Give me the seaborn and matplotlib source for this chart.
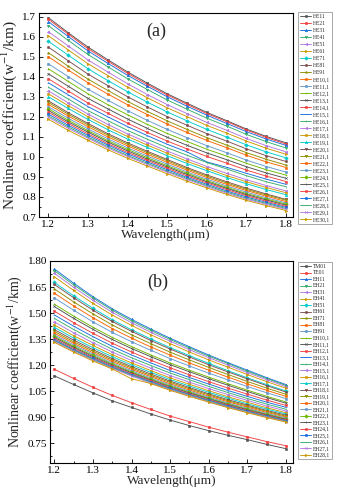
import matplotlib
matplotlib.use("Agg")
import matplotlib.pyplot as plt
from matplotlib.ticker import MultipleLocator, FormatStrFormatter
import seaborn as sns
import pandas as pd

# ---------------- data ----------------
wavelength = [1.20, 1.25, 1.30, 1.35, 1.40, 1.45, 1.50, 1.55, 1.60, 1.65, 1.70, 1.75, 1.80]

labels_a = ["HE11", "HE21", "HE31", "HE41", "HE51", "HE61", "HE71", "HE81", "HE91", "HE10,1",
            "HE11,1", "HE12,1", "HE13,1", "HE14,1", "HE15,1", "HE16,1", "HE17,1", "HE18,1", "HE19,1", "HE20,1",
            "HE21,1", "HE22,1", "HE23,1", "HE24,1", "HE25,1", "HE26,1", "HE27,1", "HE28,1", "HE29,1", "HE30,1"]

a01 = [1.695, 1.620, 1.548, 1.485, 1.424, 1.368, 1.315, 1.268, 1.222, 1.181, 1.139, 1.102, 1.070]
a02 = [1.687, 1.613, 1.540, 1.478, 1.417, 1.361, 1.309, 1.262, 1.216, 1.176, 1.134, 1.097, 1.064]
a03 = [1.675, 1.601, 1.529, 1.467, 1.407, 1.352, 1.300, 1.253, 1.208, 1.167, 1.126, 1.089, 1.057]
a04 = [1.655, 1.582, 1.511, 1.450, 1.390, 1.336, 1.284, 1.238, 1.193, 1.154, 1.112, 1.076, 1.044]
a05 = [1.625, 1.554, 1.484, 1.424, 1.365, 1.311, 1.261, 1.216, 1.172, 1.133, 1.092, 1.056, 1.025]
a06 = [1.605, 1.534, 1.465, 1.406, 1.348, 1.295, 1.245, 1.201, 1.157, 1.119, 1.079, 1.043, 1.013]
a07 = [1.577, 1.508, 1.440, 1.381, 1.325, 1.273, 1.224, 1.180, 1.137, 1.099, 1.060, 1.025, 0.995]
a08 = [1.548, 1.480, 1.413, 1.356, 1.300, 1.249, 1.201, 1.158, 1.116, 1.079, 1.040, 1.006, 0.977]
a09 = [1.520, 1.453, 1.388, 1.332, 1.277, 1.227, 1.180, 1.137, 1.096, 1.059, 1.021, 0.988, 0.959]
a10 = [1.500, 1.434, 1.370, 1.314, 1.260, 1.211, 1.164, 1.122, 1.082, 1.046, 1.008, 0.975, 0.947]
a11 = [1.465, 1.401, 1.338, 1.283, 1.231, 1.182, 1.137, 1.096, 1.056, 1.021, 0.984, 0.952, 0.924]
a12 = [1.440, 1.377, 1.315, 1.261, 1.210, 1.162, 1.117, 1.077, 1.038, 1.004, 0.968, 0.936, 0.909]
a13 = [1.415, 1.353, 1.292, 1.240, 1.189, 1.142, 1.098, 1.058, 1.020, 0.986, 0.951, 0.920, 0.893]
a14 = [1.390, 1.329, 1.269, 1.218, 1.168, 1.122, 1.079, 1.040, 1.002, 0.969, 0.934, 0.904, 0.877]
a15 = [1.370, 1.310, 1.251, 1.200, 1.151, 1.106, 1.063, 1.025, 0.975, 0.948, 0.918, 0.889, 0.863]
a16 = [1.348, 1.289, 1.231, 1.181, 1.132, 1.088, 1.046, 1.008, 0.972, 0.940, 0.906, 0.876, 0.851]
a17 = [1.330, 1.270, 1.214, 1.162, 1.115, 1.071, 1.029, 0.990, 0.952, 0.918, 0.886, 0.857, 0.830]
a18 = [1.315, 1.256, 1.201, 1.149, 1.102, 1.059, 1.018, 0.978, 0.942, 0.907, 0.876, 0.847, 0.821]
a19 = [1.300, 1.242, 1.187, 1.136, 1.089, 1.047, 1.006, 0.967, 0.931, 0.897, 0.866, 0.837, 0.811]
a20 = [1.280, 1.221, 1.167, 1.116, 1.070, 1.028, 0.987, 0.947, 0.910, 0.876, 0.844, 0.815, 0.788]
a21 = [1.272, 1.213, 1.160, 1.109, 1.063, 1.021, 0.981, 0.941, 0.904, 0.870, 0.838, 0.810, 0.784]
a22 = [1.262, 1.204, 1.151, 1.100, 1.055, 1.013, 0.973, 0.934, 0.897, 0.863, 0.832, 0.804, 0.777]
a23 = [1.250, 1.193, 1.140, 1.090, 1.045, 1.004, 0.964, 0.925, 0.889, 0.855, 0.824, 0.796, 0.770]
a24 = [1.240, 1.183, 1.131, 1.081, 1.037, 0.996, 0.956, 0.918, 0.882, 0.848, 0.817, 0.790, 0.764]
a25 = [1.232, 1.175, 1.124, 1.074, 1.030, 0.989, 0.950, 0.912, 0.876, 0.843, 0.812, 0.785, 0.759]
a26 = [1.223, 1.167, 1.115, 1.066, 1.022, 0.982, 0.943, 0.905, 0.870, 0.837, 0.806, 0.779, 0.753]
a27 = [1.214, 1.158, 1.107, 1.059, 1.015, 0.975, 0.936, 0.898, 0.863, 0.830, 0.800, 0.773, 0.748]
a28 = [1.205, 1.150, 1.099, 1.051, 1.007, 0.968, 0.929, 0.892, 0.857, 0.824, 0.794, 0.768, 0.742]
a29 = [1.198, 1.143, 1.093, 1.045, 1.002, 0.962, 0.924, 0.887, 0.852, 0.819, 0.789, 0.763, 0.738]
a30 = [1.188, 1.133, 1.083, 1.036, 0.993, 0.954, 0.916, 0.879, 0.845, 0.813, 0.783, 0.757, 0.732]

labels_b = ["TM01", "TE01", "EH11", "EH21", "EH31", "EH41", "EH51", "EH61", "EH71", "EH81",
            "EH91", "EH10,1", "EH11,1", "EH12,1", "EH13,1", "EH14,1", "EH15,1", "EH16,1", "EH17,1", "EH18,1",
            "EH19,1", "EH20,1", "EH21,1", "EH22,1", "EH23,1", "EH24,1", "EH25,1", "EH26,1", "EH27,1", "EH28,1"]

b01 = [1.139, 1.089, 1.041, 0.995, 0.957, 0.919, 0.884, 0.852, 0.823, 0.796, 0.771, 0.744, 0.719]
b02 = [1.177, 1.124, 1.073, 1.026, 0.984, 0.945, 0.907, 0.875, 0.843, 0.814, 0.787, 0.760, 0.736]
b03 = [1.755, 1.673, 1.595, 1.525, 1.464, 1.408, 1.355, 1.306, 1.258, 1.214, 1.171, 1.128, 1.088]
b04 = [1.745, 1.663, 1.587, 1.517, 1.456, 1.400, 1.348, 1.299, 1.252, 1.209, 1.165, 1.123, 1.083]
b05 = [1.730, 1.649, 1.574, 1.505, 1.445, 1.389, 1.338, 1.289, 1.243, 1.200, 1.157, 1.116, 1.076]
b06 = [1.710, 1.631, 1.556, 1.489, 1.429, 1.375, 1.324, 1.276, 1.230, 1.188, 1.146, 1.105, 1.067]
b07 = [1.677, 1.600, 1.528, 1.462, 1.404, 1.351, 1.301, 1.255, 1.210, 1.168, 1.127, 1.088, 1.051]
b08 = [1.665, 1.589, 1.517, 1.452, 1.395, 1.342, 1.293, 1.247, 1.202, 1.161, 1.121, 1.082, 1.045]
b09 = [1.640, 1.565, 1.496, 1.432, 1.375, 1.324, 1.275, 1.230, 1.187, 1.146, 1.106, 1.068, 1.032]
b10 = [1.615, 1.542, 1.474, 1.411, 1.356, 1.305, 1.258, 1.213, 1.171, 1.131, 1.092, 1.055, 1.020]
b11 = [1.588, 1.517, 1.450, 1.389, 1.335, 1.286, 1.238, 1.195, 1.154, 1.115, 1.077, 1.041, 1.007]
b12 = [1.552, 1.483, 1.419, 1.360, 1.307, 1.259, 1.213, 1.171, 1.131, 1.093, 1.056, 1.021, 0.988]
b13 = [1.538, 1.470, 1.407, 1.348, 1.296, 1.249, 1.203, 1.162, 1.122, 1.084, 1.048, 1.013, 0.981]
b14 = [1.512, 1.445, 1.384, 1.327, 1.276, 1.229, 1.185, 1.144, 1.105, 1.068, 1.033, 0.999, 0.968]
b15 = [1.490, 1.425, 1.365, 1.309, 1.259, 1.213, 1.169, 1.129, 1.091, 1.054, 1.020, 0.987, 0.957]
b16 = [1.470, 1.406, 1.347, 1.292, 1.243, 1.198, 1.155, 1.116, 1.078, 1.042, 1.008, 0.976, 0.946]
b17 = [1.450, 1.387, 1.330, 1.276, 1.227, 1.183, 1.140, 1.102, 1.065, 1.030, 0.997, 0.965, 0.936]
b18 = [1.432, 1.370, 1.314, 1.261, 1.213, 1.169, 1.127, 1.090, 1.053, 1.018, 0.986, 0.955, 0.926]
b19 = [1.418, 1.357, 1.301, 1.249, 1.202, 1.159, 1.117, 1.080, 1.044, 1.010, 0.977, 0.947, 0.919]
b20 = [1.405, 1.345, 1.290, 1.238, 1.192, 1.149, 1.108, 1.071, 1.035, 1.001, 0.970, 0.939, 0.912]
b21 = [1.395, 1.335, 1.281, 1.230, 1.184, 1.141, 1.101, 1.064, 1.029, 0.995, 0.964, 0.934, 0.906]
b22 = [1.385, 1.326, 1.272, 1.222, 1.176, 1.134, 1.093, 1.057, 1.022, 0.989, 0.958, 0.928, 0.901]
b23 = [1.375, 1.317, 1.264, 1.213, 1.168, 1.126, 1.086, 1.050, 1.016, 0.982, 0.952, 0.922, 0.896]
b24 = [1.367, 1.309, 1.256, 1.207, 1.161, 1.120, 1.080, 1.045, 1.010, 0.977, 0.947, 0.918, 0.891]
b25 = [1.360, 1.303, 1.250, 1.201, 1.156, 1.115, 1.075, 1.040, 1.006, 0.973, 0.943, 0.914, 0.888]
b26 = [1.353, 1.296, 1.244, 1.195, 1.150, 1.110, 1.070, 1.035, 1.001, 0.968, 0.939, 0.910, 0.884]
b27 = [1.347, 1.290, 1.239, 1.190, 1.146, 1.105, 1.066, 1.031, 0.997, 0.965, 0.935, 0.906, 0.881]
b28 = [1.342, 1.286, 1.234, 1.186, 1.142, 1.101, 1.062, 1.027, 0.994, 0.961, 0.932, 0.904, 0.878]
b29 = [1.337, 1.281, 1.230, 1.182, 1.138, 1.097, 1.059, 1.024, 0.990, 0.958, 0.929, 0.901, 0.875]
b30 = [1.332, 1.276, 1.225, 1.178, 1.122, 1.094, 1.055, 1.020, 0.987, 0.955, 0.926, 0.898, 0.872]

series_a = [a01, a02, a03, a04, a05, a06, a07, a08, a09, a10, a11, a12, a13, a14, a15,
            a16, a17, a18, a19, a20, a21, a22, a23, a24, a25, a26, a27, a28, a29, a30]
series_b = [b01, b02, b03, b04, b05, b06, b07, b08, b09, b10, b11, b12, b13, b14, b15,
            b16, b17, b18, b19, b20, b21, b22, b23, b24, b25, b26, b27, b28, b29, b30]

# ---------------- style ----------------
palette = ["#515151", "#F14040", "#1A6FDF", "#37AD6B", "#B177DE", "#CC9900",
           "#00CBCC", "#7D4E4E", "#8E8E00", "#FB6501", "#6699CC", "#6FB802"]
markers = ["s", "o", "^", "v", "<", ">", "D", "h", "*", "s", "o", "+",
           "x", "s", "_", "|", "<", "s", "^", "v", "v", "s", "o", "D",
           "+", "s", "o", "_", "x", ">"]

sns.set_style("ticks")
plt.rcParams["font.family"] = ["Liberation Serif", "DejaVu Serif"]
plt.rcParams["mathtext.fontset"] = "stix"

fig = plt.figure(figsize=(3.42, 4.94), dpi=100)
ax_a = fig.add_axes([0.114, 0.5607, 0.743, 0.413])
ax_b = fig.add_axes([0.146, 0.0628, 0.711, 0.4089])


def draw(ax, labels, series):
    for i, (lab, vals) in enumerate(zip(labels, series)):
        df = pd.DataFrame({"x": wavelength, "y": vals})
        c = palette[i % len(palette)]
        sns.lineplot(data=df, x="x", y="y", ax=ax, color=c, linewidth=0.65,
                     marker=markers[i], markersize=1.8, markeredgewidth=0.4,
                     markeredgecolor=c, markerfacecolor=c, label=lab)


draw(ax_a, labels_a, series_a)
draw(ax_b, labels_b, series_b)

for ax in (ax_a, ax_b):
    for sp in ax.spines.values():
        sp.set_linewidth(0.8)
        sp.set_color("black")
    ax.tick_params(which="both", direction="in", top=False, right=False,
                   labelsize=8, width=0.6, colors="black", pad=2)
    ax.tick_params(which="major", length=3)
    ax.tick_params(which="minor", length=1.6)
    ax.xaxis.set_major_locator(MultipleLocator(0.1))
    ax.xaxis.set_minor_locator(MultipleLocator(0.05))
    ax.xaxis.set_major_formatter(FormatStrFormatter("%.1f"))
    ax.set_xlabel("Wavelength(μm)", fontsize=9.5, labelpad=0)

ax_a.set_ylabel("Nonlinear coefficient(w$^{-1}$/km)", fontsize=11)
ax_a.yaxis.set_label_coords(-0.078, 0.5)
ax_b.set_ylabel("Nonlinear coefficient(w$^{-1}$/km)", fontsize=10)
ax_b.yaxis.set_label_coords(-0.105, 0.5)

ax_a.set_xlim(1.1765, 1.8177)
ax_a.set_ylim(0.70, 1.718)
ax_a.yaxis.set_major_locator(MultipleLocator(0.1))
ax_a.yaxis.set_minor_locator(MultipleLocator(0.05))
ax_a.yaxis.set_major_formatter(FormatStrFormatter("%.1f"))

ax_b.set_xlim(1.189, 1.818)
ax_b.set_ylim(0.637, 1.80)
ax_b.yaxis.set_major_locator(MultipleLocator(0.15))
ax_b.yaxis.set_minor_locator(MultipleLocator(0.075))
ax_b.yaxis.set_major_formatter(FormatStrFormatter("%.2f"))

ax_a.text(0.46, 0.91, "(a)", transform=ax_a.transAxes, fontsize=13, ha="center", va="center")
ax_b.text(0.444, 0.896, "(b)", transform=ax_b.transAxes, fontsize=13, ha="center", va="center")

for ax, top, spacing in ((ax_a, 1 - 12 / 494, 0.36), (ax_b, 1 - 262 / 494, 0.27)):
    leg = ax.legend(loc="upper left", bbox_to_anchor=(298 / 342, top),
                    bbox_transform=fig.transFigure, fontsize=4, frameon=True,
                    fancybox=False, borderpad=0.35, labelspacing=spacing,
                    handlelength=2.0, handletextpad=0.3, borderaxespad=0)
    leg.get_frame().set_edgecolor("#808080")
    leg.get_frame().set_linewidth(0.6)

fig.savefig("out.png", dpi=100)
